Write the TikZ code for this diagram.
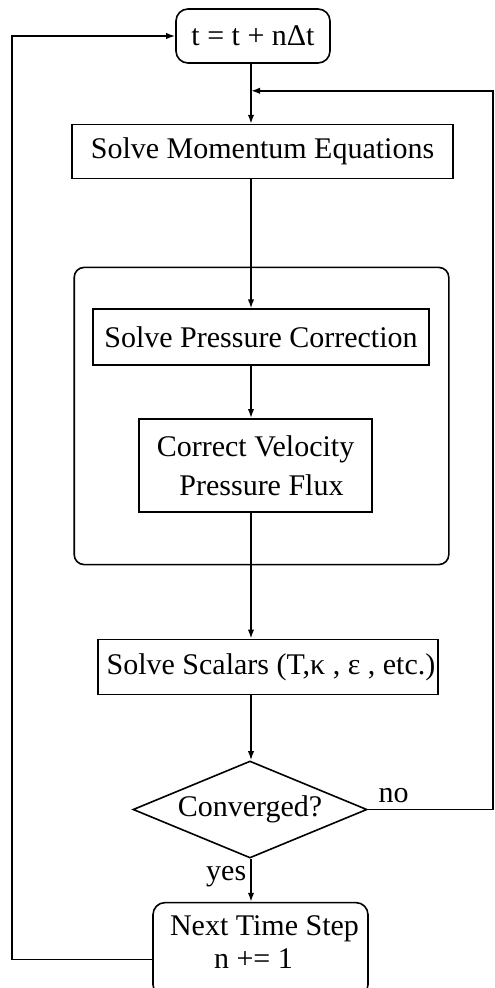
\documentclass[tikz,border=0pt]{standalone}
\usepackage{fontspec}
\setmainfont{Liberation Serif}
\usepackage{tikz}
\usetikzlibrary{arrows.meta,positioning,calc,shapes.geometric}

\begin{document}
\begin{tikzpicture}[
  x=0.5pt, y=-0.5pt,
  line width=0.8pt,
  font=\fontsize{15}{16.5}\selectfont,
  stepbox/.style={draw, inner sep=0pt, align=center},
  roundbox/.style={draw, rounded corners=6pt, inner sep=0pt, align=center},
  decision/.style={draw, diamond, aspect=2.4, inner sep=0pt, minimum width=117pt, minimum height=48.5pt},
  lbl/.style={inner sep=0pt},
  arr/.style={-{Latex[length=4.5pt,width=3.2pt]}}
]
  \useasboundingbox (0,0) rectangle (494,988);

  \node[roundbox, minimum width=77pt, minimum height=27pt] (tstep) at (253,36) {t = t + nΔt};
  \node[stepbox, minimum width=190.5pt, minimum height=27pt, below=30pt of tstep, xshift=4.75pt] (mom) {Solve Momentum Equations};
  \node[stepbox, minimum width=168pt, minimum height=28pt, below=64.5pt of mom, xshift=-0.75pt] (pres) {Solve Pressure Correction};
  \node[stepbox, minimum width=116.5pt, minimum height=46.5pt, below=26pt of pres, xshift=-2.75pt] (corr) {Correct Velocity\\[3pt]\hspace*{6pt}Pressure Flux};
  \node[stepbox, minimum width=170pt, minimum height=27.5pt, below=63pt of corr, xshift=6.25pt] (scal) {\hspace*{3pt}Solve Scalars (T,κ , ε , etc.)};
  \node[decision, below=32.5pt of scal, xshift=-9pt] (conv) {Converged?};
  \node[roundbox, minimum width=107.5pt, minimum height=47pt, text depth=8pt, below=21.5pt of conv, xshift=5.25pt] (next) {\hspace*{4pt}Next Time Step\\\hspace*{-7pt}n += 1};

  % inner pressure-velocity loop
  \draw[rounded corners=5pt] ($(pres.north west)+(-9pt,20.5pt)$) rectangle ($(pres.east |- corr.south)+(9.5pt,-26pt)$);

  \coordinate (spine) at (251,0);
  \coordinate (join) at ($(tstep.south -| spine)!0.45!(mom.north -| spine)$);
  \coordinate (ledge) at (12,0);
  \coordinate (redge) at (493,0);

  \draw[arr] (tstep.south -| spine) -- (mom.north -| spine);
  \draw[arr] (mom.south -| spine) -- (pres.north -| spine);
  \draw[arr] (pres.south -| spine) -- (corr.north -| spine);
  \draw[arr] (corr.south -| spine) -- (scal.north -| spine);
  \draw[arr] (scal.south -| spine) -- (conv.north -| spine);
  \draw[arr] (conv.south -| spine) -- node[lbl, pos=0.42, left=2pt] (yes) {yes} (next.north -| spine);
  \draw[arr] (conv.east) -- node[lbl, pos=0, anchor=south west, xshift=5pt, yshift=3pt] (no) {no} (conv.east -| redge) |- (join);
  \draw[arr] ([yshift=-5pt]next.west) -| (ledge |- tstep.west) -- (tstep.west);
\end{tikzpicture}
\end{document}
